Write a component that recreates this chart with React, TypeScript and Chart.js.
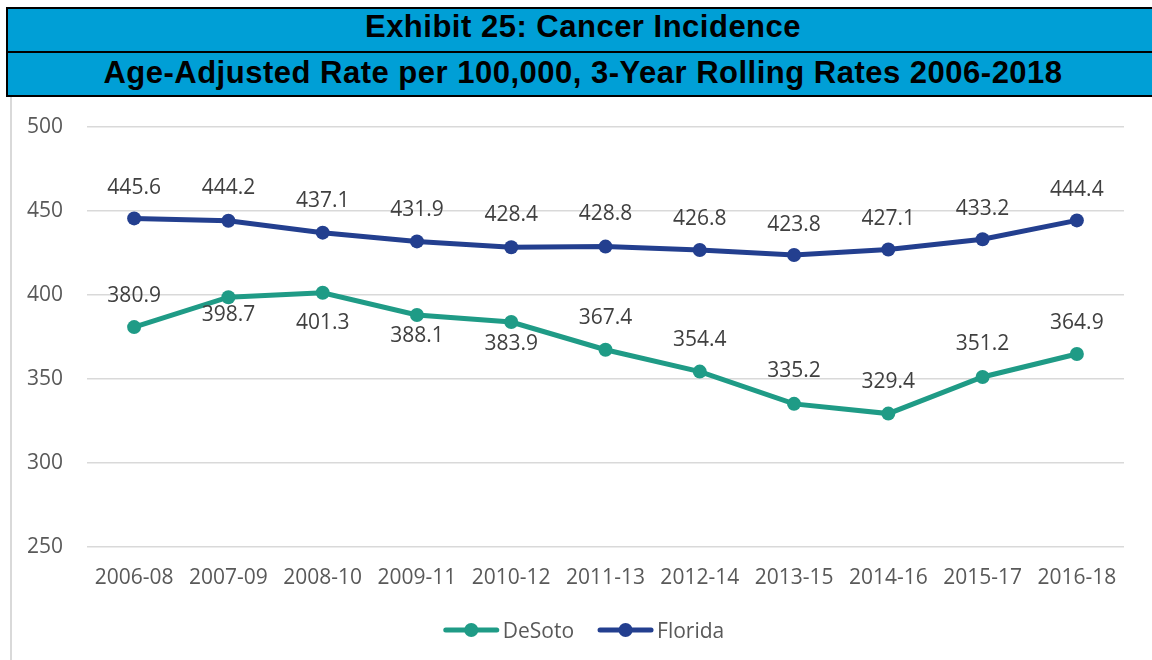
import React, { useEffect, useRef } from "react";
import { Chart, registerables } from "chart.js";

Chart.register(...registerables);

// ---------- data ----------
const categories = [
  "2006-08", "2007-09", "2008-10", "2009-11", "2010-12", "2011-13",
  "2012-14", "2013-15", "2014-16", "2015-17", "2016-18",
];
const desotoValues = [380.9, 398.7, 401.3, 388.1, 383.9, 367.4, 354.4, 335.2, 329.4, 351.2, 364.9];
const floridaValues = [445.6, 444.2, 437.1, 431.9, 428.4, 428.8, 426.8, 423.8, 427.1, 433.2, 444.4];
const seriesNames = ["DeSoto", "Florida"];
const yMin = 250;
const yMax = 500;
const yStep = 50;
const titleLine1 = "Exhibit 25: Cancer Incidence";
const titleLine2 = "Age-Adjusted Rate per 100,000, 3-Year Rolling Rates 2006-2018";

// ---------- style ----------
const DESOTO_COLOR = "#1F9B86";
const FLORIDA_COLOR = "#233F8F";
const TEXT_COLOR = "#595959";
const LABEL_COLOR = "#404040";
const GRID_COLOR = "#D9D9D9";
const FONT = '"Open Sans", "Noto Sans", sans-serif';
const FONT_SIZE = 21;
// vertical pixel offsets of the data labels relative to each point
const desotoLabelOffsets = [-33, 16, 29, 20, 20, -33, -33, -34, -33, -34, -32];
const floridaLabelOffsets = [-32, -34, -33, -33, -34, -34, -32, -32, -32, -32, -32];

const pointLabelPlugin = {
  id: "pointLabels",
  afterDatasetsDraw(chart: any) {
    const ctx = chart.ctx;
    ctx.save();
    ctx.font = `${FONT_SIZE}px ${FONT}`;
    ctx.fillStyle = LABEL_COLOR;
    ctx.textAlign = "center";
    ctx.textBaseline = "alphabetic";
    chart.data.datasets.forEach((ds: any, i: number) => {
      const meta = chart.getDatasetMeta(i);
      meta.data.forEach((pt: any, j: number) => {
        const v = ds.data[j];
        const off = ds.labelOffsets[j];
        ctx.fillText(v.toFixed(1), pt.x, pt.y + off + 7.5);
      });
    });
    ctx.restore();
  },
};

const legendPlugin = {
  id: "lineLegend",
  afterDraw(chart: any) {
    const ctx = chart.ctx;
    ctx.save();
    ctx.font = `${FONT_SIZE}px ${FONT}`;
    const lineW = 55;
    const gapText = 4;
    const gapItem = 24;
    const items = chart.data.datasets.map((ds: any) => ({
      label: ds.label,
      color: ds.borderColor,
      w: ctx.measureText(ds.label).width,
    }));
    let total = 0;
    items.forEach((it: any, i: number) => {
      total += lineW + gapText + it.w + (i > 0 ? gapItem : 0);
    });
    let x = chart.width / 2 - total / 2 + 2;
    const y = chart.chartArea.bottom + 83;
    items.forEach((it: any) => {
      ctx.strokeStyle = it.color;
      ctx.lineWidth = 5;
      ctx.lineCap = "round";
      ctx.beginPath();
      ctx.moveTo(x + 2, y);
      ctx.lineTo(x + lineW - 2, y);
      ctx.stroke();
      ctx.fillStyle = it.color;
      ctx.beginPath();
      ctx.arc(x + lineW / 2, y, 7, 0, Math.PI * 2);
      ctx.fill();
      ctx.fillStyle = TEXT_COLOR;
      ctx.textAlign = "left";
      ctx.textBaseline = "alphabetic";
      ctx.fillText(it.label, x + lineW + gapText, y + 7.5);
      x += lineW + gapText + it.w + gapItem;
    });
    ctx.restore();
  },
};

function LineChart() {
  const canvasRef = useRef<HTMLCanvasElement | null>(null);

  useEffect(() => {
    if (!canvasRef.current) return;
    const chart = new Chart(canvasRef.current, {
      type: "line",
      data: {
        labels: categories,
        datasets: [
          {
            label: seriesNames[0],
            data: desotoValues,
            borderColor: DESOTO_COLOR,
            backgroundColor: DESOTO_COLOR,
            pointBackgroundColor: DESOTO_COLOR,
            pointBorderColor: DESOTO_COLOR,
            borderWidth: 5,
            pointRadius: 7,
            pointBorderWidth: 0,
            tension: 0,
            labelOffsets: desotoLabelOffsets,
          } as any,
          {
            label: seriesNames[1],
            data: floridaValues,
            borderColor: FLORIDA_COLOR,
            backgroundColor: FLORIDA_COLOR,
            pointBackgroundColor: FLORIDA_COLOR,
            pointBorderColor: FLORIDA_COLOR,
            borderWidth: 5,
            pointRadius: 7,
            pointBorderWidth: 0,
            tension: 0,
            labelOffsets: floridaLabelOffsets,
          } as any,
        ],
      },
      options: {
        animation: false,
        responsive: true,
        maintainAspectRatio: false,
        layout: { padding: { left: 0, right: 28, top: 29, bottom: 0 } },
        plugins: {
          legend: { display: false },
          title: { display: false },
          tooltip: { enabled: false },
        },
        scales: {
          x: {
            offset: true,
            grid: { display: false, drawTicks: false },
            border: { display: false },
            ticks: {
              color: TEXT_COLOR,
              font: { family: FONT, size: FONT_SIZE },
              padding: 18,
              maxRotation: 0,
              autoSkip: false,
            },
            afterFit(scale: any) {
              scale.height = 113;
            },
          },
          y: {
            min: yMin,
            max: yMax,
            grid: {
              color: GRID_COLOR,
              lineWidth: 1.5,
              drawTicks: true,
              tickLength: 21,
              tickColor: "rgba(0,0,0,0)",
            },
            border: { display: false },
            ticks: {
              stepSize: yStep,
              color: TEXT_COLOR,
              font: { family: FONT, size: FONT_SIZE },
              padding: 3,
            },
            afterFit(scale: any) {
              scale.width = 75;
            },
          },
        },
      },
      plugins: [pointLabelPlugin, legendPlugin],
    });
    return () => chart.destroy();
  }, []);

  return <canvas ref={canvasRef} />;
}

export default function App() {
  const titleFont = '"Liberation Sans", Arial, sans-serif';
  return (
    <div
      style={{
        position: "absolute",
        left: 0,
        top: 0,
        width: 1152,
        height: 660,
        overflow: "hidden",
        background: "#ffffff",
      }}
    >
      <div
        style={{
          position: "absolute",
          left: 6,
          top: 7,
          width: 1154,
          boxSizing: "border-box",
          border: "2px solid #000",
          background: "#009FD6",
          fontFamily: titleFont,
          fontWeight: "bold",
          color: "#000",
          textAlign: "center",
          whiteSpace: "nowrap",
        }}
      >
        <div
          style={{
            height: 42,
            lineHeight: "36px",
            fontSize: 31,
            letterSpacing: "0.5px",
            borderBottom: "2px solid #000",
            overflow: "hidden",
          }}
        >
          {titleLine1}
        </div>
        <div
          style={{
            height: 42,
            lineHeight: "39px",
            fontSize: 31,
            letterSpacing: "0.5px",
            overflow: "hidden",
          }}
        >
          {titleLine2}
        </div>
      </div>
      <div
        style={{
          position: "absolute",
          left: 10,
          top: 97,
          width: 2,
          height: 570,
          background: GRID_COLOR,
        }}
      />
      <div
        style={{
          position: "absolute",
          left: 12,
          top: 98,
          width: 1140,
          height: 562,
        }}
      >
        <LineChart />
      </div>
    </div>
  );
}
